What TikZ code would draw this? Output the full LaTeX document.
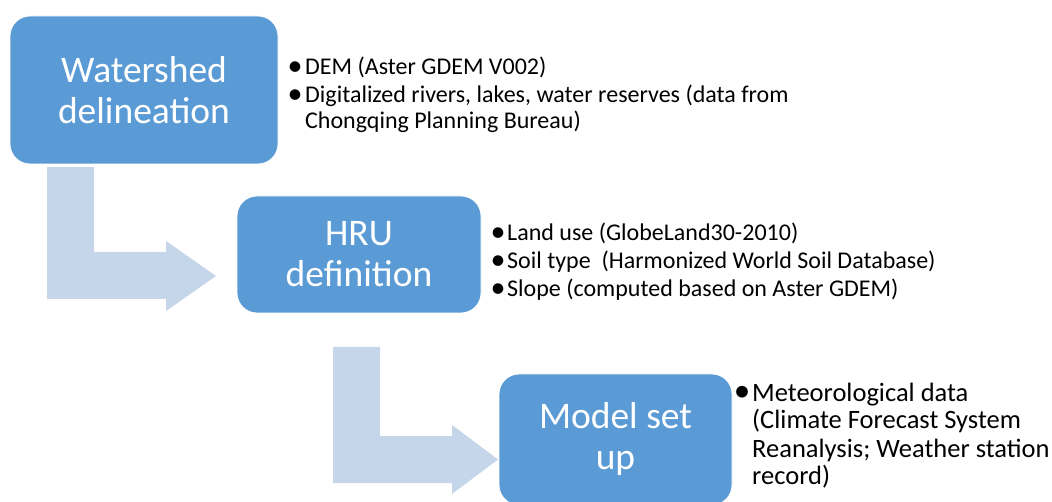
\documentclass[tikz,border=0pt]{standalone}
\usepackage{fontspec}
\setmainfont{Carlito}
\definecolor{stepblue}{HTML}{5B9BD5}
\definecolor{flowblue}{HTML}{C5D5EA}
\tikzset{
  stepbox/.style={draw=white, line width=0.8pt, fill=stepblue, rounded corners=20pt,
    text=white, align=center, inner sep=0pt,
    font=\fontsize{37.5}{41}\selectfont},
  flowarrow/.style={fill=flowblue, draw=none},
  notes/.style={anchor=base west, inner sep=0pt, text=black},
}
% bullet, slightly enlarged, centred in a column of the given width
\newcommand{\bul}[1]{\makebox[#1][c]{\raisebox{-0.9pt}{\scalebox{1.25}{•}}}}
\begin{document}
\begin{tikzpicture}[x=1pt, y=-1pt]
\useasboundingbox (0,0) rectangle (1052,502);
\begin{scope}
\clip (0,0) rectangle (1052,502);

% bent block arrows (drawn first, boxes sit on top)
\fill[flowarrow] (47,167) -- (94,167) -- (94,252) -- (166,252) -- (166,241)
  -- (216,276) -- (166,311) -- (166,299) -- (47,299) -- cycle;
\fill[flowarrow] (333,347) -- (380,347) -- (380,436) -- (452,436) -- (452,425)
  -- (498,459.5) -- (452,494) -- (452,483) -- (333,483) -- cycle;

% process steps
\node[stepbox, minimum width=268pt, minimum height=148pt] (ws) at (144,90)
  {Watershed\\delineation};
\node[stepbox, minimum width=244pt, minimum height=117pt] (hru) at (359,254.5)
  {HRU\\definition};
\node[stepbox, minimum width=233pt, minimum height=131pt] (mod) at (615.5,439.5)
  {Model set\\up};

% input data of each step
\node[notes, font=\fontsize{24}{26.5}\selectfont] (wsin) at (285,75)
  {\begin{tabular}[t]{@{}l@{}l@{}}
   \bul{20pt}&DEM (Aster GDEM V002)\\[1pt]
   \bul{20pt}&Digitalized rivers, lakes, water reserves (data from\\
   &Chongqing Planning Bureau)
   \end{tabular}};
\node[notes, font=\fontsize{24}{28}\selectfont] (hruin) at (489,241)
  {\begin{tabular}[t]{@{}l@{}l@{}}
   \bul{18pt}&Land use (GlobeLand30-2010)\\
   \bul{18pt}&Soil type~~(Harmonized World Soil Database)\\
   \bul{18pt}&Slope (computed based on Aster GDEM)
   \end{tabular}};
\node[notes, font=\fontsize{26.5}{28}\selectfont] (modin) at (732,401)
  {\begin{tabular}[t]{@{}l@{}l@{}}
   \bul{20pt}&Meteorological data\\
   &(Climate Forecast System\\
   &Reanalysis; Weather station\\
   &record)
   \end{tabular}};
\end{scope}
\end{tikzpicture}
\end{document}
